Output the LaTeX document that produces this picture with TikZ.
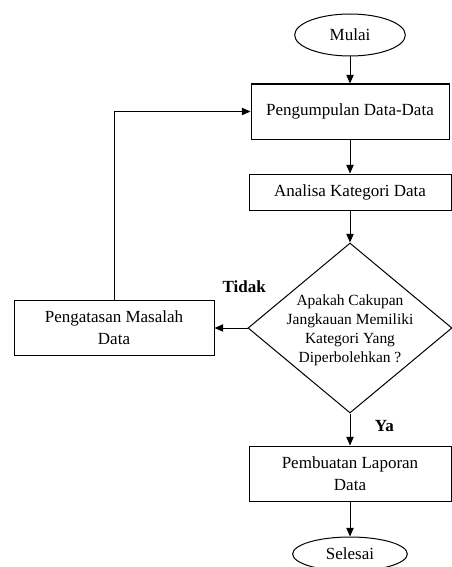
\documentclass[tikz,border=0pt]{standalone}
\usepackage{fontspec}
\setmainfont{Liberation Serif}
\usetikzlibrary{shapes.geometric, positioning, arrows.meta}
\tikzset{
  startstop/.style={ellipse, minimum width=83pt, minimum height=31.5pt, text centered, draw=black},
  process/.style={rectangle, minimum width=151.5pt, minimum height=41.25pt, align=center, draw=black},
  decision/.style={diamond, minimum width=153pt, minimum height=127.5pt, inner sep=0pt, draw=black},
  decisiontext/.style={align=center, font=\fontsize{11.6}{14.25}\selectfont},
  answer/.style={font=\fontsize{12.75}{15}\selectfont\bfseries},
  arrow/.style={line width=0.75pt,-{Triangle[length=6.5pt,width=5.5pt]}}
}
\begin{document}
\begin{tikzpicture}[every node/.style={font=\fontsize{12.75}{16.5}\selectfont}, line width=0.75pt]
        \useasboundingbox (0,0) rectangle (338.25pt,-425.25pt);

        \node (start) [startstop] at (262.5pt,-26.25pt) {Mulai};
        \node (collect) [process, minimum width=148.5pt, below=20.25pt of start] {Pengumpulan Data-Data};
        \node (analyze) [process, minimum height=27pt, below=25.5pt of collect] {Analisa Kategori Data};

        % Keputusan
        \node (decision) [decision, below=24pt of analyze,
          label={[decisiontext, yshift=-2pt]center:{Apakah Cakupan\\Jangkauan Memiliki\\Kategori Yang\\Diperbolehkan ?}}] {};

        % Blok Tidak (kiri)
        \node (fix) [process, minimum width=150pt, left=24.75pt of decision] {Pengatasan Masalah\\Data};

        % Blok Ya (bawah)
        \node (report) [process, below=24pt of decision] {Pembuatan Laporan\\Data};
        \node (stop) [startstop, minimum width=86pt, minimum height=25.5pt, below=26.25pt of report] {Selesai};

        % Panah utama
        \draw [arrow] (start) -- (collect);
        \draw [arrow] (collect) -- (analyze);
        \draw [arrow] (analyze) -- (decision);
        \draw [arrow] (decision) -- node[answer, pos=0.1, above=23pt] {Tidak} (fix);
        \draw [arrow] (decision) -- node[answer, pos=0.4, right=15pt] {Ya} (report);
        \draw [arrow] (report) -- (stop);

        % Kembali ke pengumpulan data
        \draw [arrow] (fix) |- (collect);

    \end{tikzpicture}
\end{document}
